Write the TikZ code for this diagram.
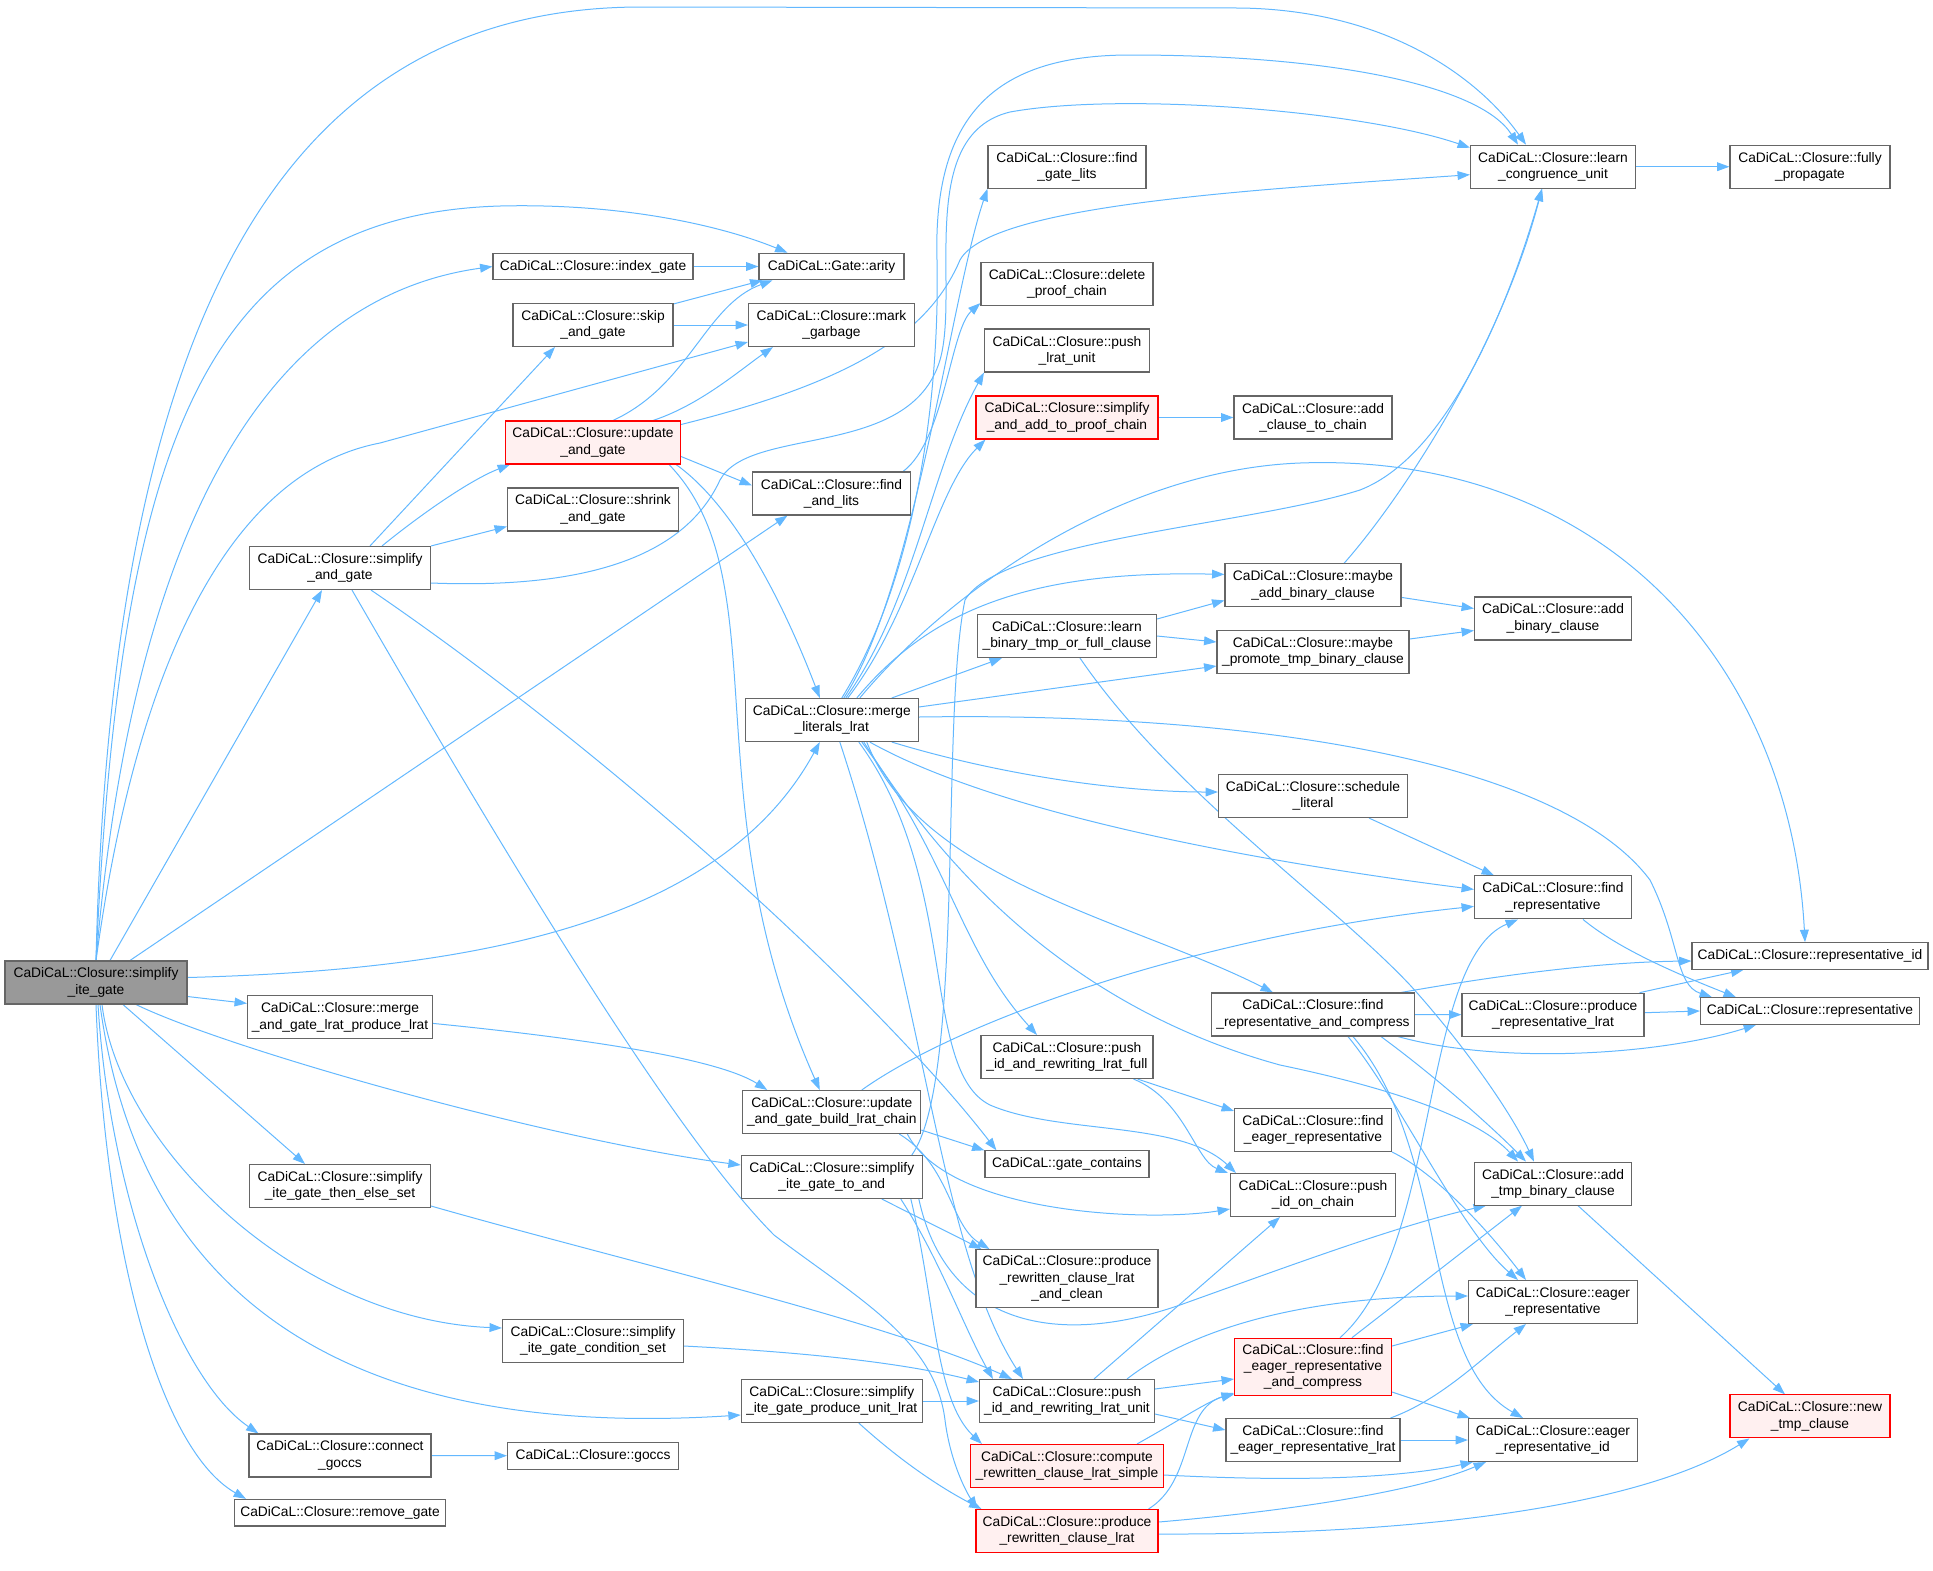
\documentclass[tikz,border=0pt]{standalone}
\usepackage{fontspec}
\setmainfont{Liberation Sans}
\usepackage{tikz}
\usetikzlibrary{arrows.meta, calc, backgrounds}
\definecolor{edgeblue}{HTML}{63B8FF}
\definecolor{boxline}{HTML}{666666}
\definecolor{rootfill}{HTML}{999999}
\definecolor{hotline}{HTML}{FF0000}
\definecolor{hotfill}{HTML}{FFF0F0}
\newcommand{\fnsize}{\fontsize{6.9pt}{8.1pt}\selectfont}

\begin{document}
\begin{tikzpicture}[
    x=0.5pt, y=-0.5pt,
    fn/.style={rectangle, draw=boxline, fill=white, line width=0.55pt,
               align=center, font=\fnsize, inner sep=1pt,
               minimum height=21.5pt},
    one/.style={minimum height=13.3pt},
    three/.style={minimum height=28.8pt},
    wd/.style={minimum width=#1*0.5pt},
    root/.style={fill=rootfill},
    hot/.style={draw=hotline, fill=hotfill},
    call/.style={-{Triangle[length=6.2pt, width=4.4pt]}, line width=0.5pt,
                 color=edgeblue}
]
\useasboundingbox (0,0) rectangle (1933,1570);

\node[fn, root, wd=182] (site) at (96,982.5) {CaDiCaL::Closure::simplify\\\_ite\_gate};
\node[fn, one, wd=200] (idx) at (593,266.5) {CaDiCaL::Closure::index\_gate};
\node[fn, one, wd=145] (arity) at (831.5,266.5) {CaDiCaL::Gate::arity};
\node[fn, wd=160] (skip) at (593,325) {CaDiCaL::Closure::skip\\\_and\_gate};
\node[fn, wd=166] (markg) at (831.5,325) {CaDiCaL::Closure::mark\\\_garbage};
\node[fn, hot, wd=175] (upd) at (593,442.5) {CaDiCaL::Closure::update\\\_and\_gate};
\node[fn, wd=171] (shrink) at (593,509.5) {CaDiCaL::Closure::shrink\\\_and\_gate};
\node[fn, wd=181] (sag) at (340,568) {CaDiCaL::Closure::simplify\\\_and\_gate};
\node[fn, wd=158] (fal) at (831.5,493.5) {CaDiCaL::Closure::find\\\_and\_lits};
\node[fn, wd=158] (fgl) at (1067,166.7) {CaDiCaL::Closure::find\\\_gate\_lits};
\node[fn, wd=172] (dpc) at (1067,284) {CaDiCaL::Closure::delete\\\_proof\_chain};
\node[fn, wd=165] (plu) at (1067,350.5) {CaDiCaL::Closure::push\\\_lrat\_unit};
\node[fn, hot, wd=182] (saapc) at (1067,417.5) {CaDiCaL::Closure::simplify\\\_and\_add\_to\_proof\_chain};
\node[fn, wd=158] (actc) at (1313,417.5) {CaDiCaL::Closure::add\\\_clause\_to\_chain};
\node[fn, wd=165] (lcu) at (1553,166.7) {CaDiCaL::Closure::learn\\\_congruence\_unit};
\node[fn, wd=160] (fp) at (1810,166.7) {CaDiCaL::Closure::fully\\\_propagate};
\node[fn, wd=173] (mll) at (831.8,720) {CaDiCaL::Closure::merge\\\_literals\_lrat};
\node[fn, wd=176] (mabc) at (1313,585.4) {CaDiCaL::Closure::maybe\\\_add\_binary\_clause};
\node[fn, wd=179] (lbt) at (1067,636) {CaDiCaL::Closure::learn\\\_binary\_tmp\_or\_full\_clause};
\node[fn, wd=192] (mptbc) at (1313,652) {CaDiCaL::Closure::maybe\\\_promote\_tmp\_binary\_clause};
\node[fn, wd=157] (abc) at (1553,618.5) {CaDiCaL::Closure::add\\\_binary\_clause};
\node[fn, wd=189] (sl) at (1313,796) {CaDiCaL::Closure::schedule\\\_literal};
\node[fn, wd=157] (fr) at (1553,897.4) {CaDiCaL::Closure::find\\\_representative};
\node[fn, one, wd=236] (repid) at (1810,956) {CaDiCaL::Closure::representative\_id};
\node[fn, one, wd=219] (rep) at (1810,1011) {CaDiCaL::Closure::representative};
\node[fn, wd=203] (frac) at (1313,1014.5) {CaDiCaL::Closure::find\\\_representative\_and\_compress};
\node[fn, wd=182] (prl) at (1553,1014.7) {CaDiCaL::Closure::produce\\\_representative\_lrat};
\node[fn, wd=172] (pirlf) at (1067,1057) {CaDiCaL::Closure::push\\\_id\_and\_rewriting\_lrat\_full};
\node[fn, wd=157] (fer) at (1313,1130) {CaDiCaL::Closure::find\\\_eager\_representative};
\node[fn, wd=157] (atbc) at (1553,1183.6) {CaDiCaL::Closure::add\\\_tmp\_binary\_clause};
\node[fn, wd=165] (pioc) at (1313,1195) {CaDiCaL::Closure::push\\\_id\_on\_chain};
\node[fn, wd=185] (magl) at (340,1017.4) {CaDiCaL::Closure::merge\\\_and\_gate\_lrat\_produce\_lrat};
\node[fn, wd=178] (uagb) at (831.8,1112) {CaDiCaL::Closure::update\\\_and\_gate\_build\_lrat\_chain};
\node[fn, one, wd=164] (gc) at (1067,1164.2) {CaDiCaL::gate\_contains};
\node[fn, wd=181] (sigtes) at (340,1186) {CaDiCaL::Closure::simplify\\\_ite\_gate\_then\_else\_set};
\node[fn, wd=181] (sigta) at (831.8,1177) {CaDiCaL::Closure::simplify\\\_ite\_gate\_to\_and};
\node[fn, three, wd=182] (prclc) at (1067,1278.4) {CaDiCaL::Closure::produce\\\_rewritten\_clause\_lrat\\\_and\_clean};
\node[fn, wd=181] (sigcs) at (593,1341) {CaDiCaL::Closure::simplify\\\_ite\_gate\_condition\_set};
\node[fn, wd=169] (er) at (1553,1302) {CaDiCaL::Closure::eager\\\_representative};
\node[fn, three, hot, wd=157] (ferac) at (1313,1367) {CaDiCaL::Closure::find\\\_eager\_representative\\\_and\_compress};
\node[fn, wd=175] (pirlu) at (1067,1401) {CaDiCaL::Closure::push\\\_id\_and\_rewriting\_lrat\_unit};
\node[fn, wd=181] (sigpul) at (831.8,1401) {CaDiCaL::Closure::simplify\\\_ite\_gate\_produce\_unit\_lrat};
\node[fn, hot, wd=160] (ntc) at (1810,1416.4) {CaDiCaL::Closure::new\\\_tmp\_clause};
\node[fn, wd=182] (cg) at (340,1455.5) {CaDiCaL::Closure::connect\\\_goccs};
\node[fn, one, wd=171] (goccs) at (593,1455.8) {CaDiCaL::Closure::goccs};
\node[fn, wd=174] (ferl) at (1313,1440) {CaDiCaL::Closure::find\\\_eager\_representative\_lrat};
\node[fn, wd=169] (erid) at (1553,1440) {CaDiCaL::Closure::eager\\\_representative\_id};
\node[fn, hot, wd=193] (crcls) at (1067,1466) {CaDiCaL::Closure::compute\\\_rewritten\_clause\_lrat\_simple};
\node[fn, one, wd=211] (rg) at (340,1512.7) {CaDiCaL::Closure::remove\_gate};
\node[fn, hot, wd=182] (prcl) at (1067,1531) {CaDiCaL::Closure::produce\\\_rewritten\_clause\_lrat};

\begin{scope}[on background layer]
% simplify_ite_gate
\draw[call] (site.north) .. controls (110,380) and (250,8) .. (640,7) -- (1240,8) .. controls (1390,10) and (1480,80) .. ($(lcu.north)+(-27,0)$);
\draw[call] (site.north) .. controls (120,450) and (200,215) .. (500,206) .. controls (620,203) and (720,225) .. ($(arity.north)+(-44,0)$);
\draw[call] (site.north) .. controls (130,560) and (250,300) .. (idx.west);
\draw[call] (site.north) .. controls (140,640) and (240,470) .. (380,443) -- ($(markg.west)+(0,17)$);
\draw[call] ($(site.north)+(14,0)$) -- ($(sag.south)+(-18,0)$);
\draw[call] ($(site.north)+(34,0)$) -- ($(fal.south)+(-44,0)$);
\draw[call] ($(site.east)+(0,-5)$) .. controls (470,970) and (720,925) .. ($(mll.south)+(-12,0)$);
\draw[call] ($(site.east)+(0,14)$) -- ($(magl.west)+(0,-14)$);
\draw[call] ($(site.south)+(40,0)$) .. controls (230,1050) and (550,1140) .. ($(sigta.west)+(0,-12)$);
\draw[call] ($(site.south)+(27,0)$) -- ($(sigtes.north)+(-35,0)$);
\draw[call] ($(site.south)+(6,0)$) .. controls (120,1150) and (300,1320) .. ($(sigcs.west)+(0,-13)$);
\draw[call] ($(site.south)+(4,0)$) .. controls (140,1300) and (350,1440) .. ($(sigpul.west)+(0,14)$);
\draw[call] ($(site.south)+(2,0)$) .. controls (110,1200) and (180,1380) .. ($(cg.north west)+(10,0)$);
\draw[call] (site.south) .. controls (105,1250) and (160,1450) .. ($(rg.north west)+(12,0)$);
% gate helpers
\draw[call] (idx) -- (arity);
\draw[call] ($(skip.north east)+(0,1)$) -- ($(arity.south west)+(4,0)$);
\draw[call] (skip) -- (markg);
\draw[call] ($(upd.north)+(20,0)$) .. controls (690,385) and (705,305) .. ($(arity.south west)+(14,0)$);
\draw[call] ($(upd.north)+(60,0)$) .. controls (700,405) and (740,370) .. ($(markg.south west)+(25,0)$);
\draw[call] ($(upd.east)+(0,-18)$) .. controls (860,380) and (930,330) .. (960,260) .. controls (990,205) and (1250,190) .. ($(lcu.west)+(0,8)$);
\draw[call] ($(upd.east)+(0,14)$) -- ($(fal.west)+(0,-8)$);
\draw[call] ($(upd.south east)+(-5,0)$) .. controls (740,510) and (790,620) .. ($(mll.north)+(-12,0)$);
\draw[call] ($(upd.south east)+(-12,0)$) .. controls (780,580) and (690,800) .. ($(uagb.north)+(-12,0)$);
\draw[call] ($(fal.north east)+(-8,0)$) .. controls (945,440) and (950,330) .. ($(dpc.south west)+(0,-3)$);
% simplify_and_gate
\draw[call] ($(sag.north)+(30,0)$) -- ($(skip.south)+(-38,0)$);
\draw[call] ($(sag.north)+(42,0)$) .. controls (420,515) and (470,480) .. ($(upd.south west)+(5,0)$);
\draw[call] (sag.north east) -- ($(shrink.west)+(0,17)$);
\draw[call] ($(sag.east)+(0,15)$) .. controls (610,590) and (690,545) .. (720,480) .. controls (750,425) and (910,460) .. (940,360) .. controls (960,290) and (915,135) .. (1010,112) .. controls (1120,92) and (1360,110) .. ($(lcu.west)+(0,-19)$);
\draw[call] ($(sag.south)+(31,0)$) .. controls (620,760) and (880,1000) .. ($(gc.north west)+(12,0)$);
\draw[call] ($(sag.south)+(12,0)$) .. controls (560,950) and (690,1150) .. (774,1235) .. controls (860,1300) and (935,1340) .. (945,1420) .. controls (950,1460) and (965,1490) .. ($(prcl.north west)+(2,0)$);
% merge_literals_lrat
\draw[call] ($(mll.north)+(12,0)$) .. controls (915,590) and (950,300) .. (fgl.south west);
\draw[call] ($(mll.north)+(14,0)$) .. controls (915,600) and (930,470) .. (plu.south west);
\draw[call] ($(mll.north)+(16,0)$) .. controls (915,610) and (935,490) .. ($(saapc.south west)+(10,0)$);
\draw[call] ($(mll.north)+(10,0)$) .. controls (915,580) and (940,400) .. (937,260) .. controls (933,120) and (990,55) .. (1130,55) .. controls (1330,55) and (1480,85) .. ($(lcu.north)+(-35,0)$);
\draw[call] ($(mll.north)+(25,0)$) .. controls (930,610) and (1030,570) .. ($(mabc.west)+(0,-11)$);
\draw[call] ($(mll.north)+(60,0)$) -- ($(lbt.south west)+(25,0)$);
\draw[call] ($(mll.east)+(0,-13)$) -- ($(mptbc.west)+(0,14)$);
\draw[call] ($(mll.north)+(28,0)$) .. controls (950,590) and (1120,470) .. (1300,463) .. controls (1600,452) and (1790,660) .. ($(repid.north)+(-5,0)$);
\draw[call] ($(mll.east)+(0,-3)$) .. controls (1250,712) and (1560,760) .. (1650,880) .. controls (1680,940) and (1675,985) .. ($(rep.north west)+(12,0)$);
\draw[call] ($(mll.south)+(60,0)$) .. controls (1000,775) and (1120,792) .. ($(sl.west)+(0,-4)$);
\draw[call] ($(mll.south)+(38,0)$) .. controls (1000,815) and (1260,862) .. ($(fr.west)+(0,-8)$);
\draw[call] ($(mll.south)+(35,0)$) .. controls (920,880) and (1130,920) .. ($(frac.north)+(-40,0)$);
\draw[call] ($(mll.south)+(32,0)$) .. controls (950,880) and (1080,1010) .. (1280,1065) .. controls (1400,1090) and (1480,1120) .. ($(atbc.north)+(-35,0)$);
\draw[call] ($(mll.south)+(30,0)$) .. controls (950,860) and (960,950) .. ($(pirlf.north)+(-30,0)$);
\draw[call] ($(mll.south)+(27,0)$) .. controls (960,880) and (920,1070) .. (990,1105) .. controls (1060,1135) and (1180,1120) .. ($(pioc.north west)+(6,0)$);
\draw[call] ($(mll.south)+(8,0)$) .. controls (925,1000) and (940,1250) .. ($(pirlu.north)+(-44,0)$);
% right part
\draw[call] (lcu) -- (fp);
\draw[call] (saapc) -- (actc);
\draw[call] ($(mabc.north)+(31,0)$) .. controls (1400,500) and (1500,350) .. ($(lcu.south)+(-11,0)$);
\draw[call] ($(mabc.east)+(0,12)$) -- ($(abc.west)+(0,-10)$);
\draw[call] ($(mptbc.east)+(0,-13)$) -- ($(abc.west)+(0,12)$);
\draw[call] ($(lbt.east)+(0,-17)$) -- ($(mabc.west)+(0,15)$);
\draw[call] (lbt.east) -- ($(mptbc.west)+(0,-10)$);
\draw[call] ($(lbt.south)+(13,0)$) .. controls (1170,790) and (1330,900) .. (1410,985) .. controls (1460,1040) and (1510,1110) .. ($(atbc.north)+(-19,0)$);
\draw[call] ($(sl.south)+(56,0)$) -- ($(fr.north west)+(20,0)$);
\draw[call] ($(fr.south)+(30,0)$) .. controls (1620,950) and (1680,975) .. ($(rep.north west)+(36,0)$);
\draw[call] ($(frac.north east)+(-14,0)$) .. controls (1500,975) and (1600,962) .. ($(repid.west)+(0,5)$);
\draw[call] (frac) -- (prl);
\draw[call] ($(frac.south east)+(-17,0)$) .. controls (1500,1065) and (1660,1055) .. ($(rep.south)+(-54,0)$);
\draw[call] ($(frac.south)+(68,0)$) .. controls (1440,1080) and (1495,1130) .. ($(atbc.north)+(-27,0)$);
\draw[call] ($(frac.south)+(35,0)$) .. controls (1400,1100) and (1460,1230) .. ($(er.north)+(-35,0)$);
\draw[call] ($(frac.south)+(40,0)$) .. controls (1450,1150) and (1420,1360) .. ($(erid.north)+(-30,0)$);
\draw[call] ($(prl.north east)+(-5,0)$) -- ($(repid.south west)+(52,0)$);
\draw[call] ($(prl.east)+(0,-2)$) -- (rep.west);
\draw[call] ($(ferac.north)+(27,0)$) .. controls (1440,1250) and (1420,960) .. ($(fr.south)+(-35,0)$);
\draw[call] ($(ferac.north)+(39,0)$) -- ($(atbc.south)+(-31,0)$);
\draw[call] ($(ferac.east)+(0,-21)$) -- ($(er.south west)+(5,0)$);
\draw[call] ($(ferac.east)+(0,25)$) -- ($(erid.north west)+(2,0)$);
\draw[call] ($(ferl.north east)+(-10,0)$) .. controls (1440,1400) and (1480,1360) .. ($(er.south)+(-27,0)$);
\draw[call] (ferl) -- (erid);
\draw[call] (fer.south east) .. controls (1430,1170) and (1480,1220) .. ($(er.north)+(-27,0)$);
\draw[call] ($(pirlf.south east)+(-16,0)$) -- ($(fer.north west)+(0,3)$);
\draw[call] ($(pirlf.south east)+(-20,0)$) .. controls (1185,1100) and (1195,1160) .. ($(pioc.north west)+(-2,0)$);
\draw[call] ($(atbc.south)+(25,0)$) -- ($(ntc.north)+(-25,0)$);
% lower part
\draw[call] ($(magl.east)+(0,6)$) .. controls (600,1040) and (720,1060) .. ($(uagb.north west)+(25,0)$);
\draw[call] ($(uagb.south east)+(0,-4)$) -- (gc.north west);
\draw[call] ($(uagb.north)+(30,0)$) .. controls (960,1020) and (1200,935) .. ($(fr.west)+(0,9)$);
\draw[call] ($(uagb.south east)+(-14,0)$) .. controls (950,1215) and (1150,1222) .. ($(pioc.west)+(0,14)$);
\draw[call] ($(uagb.south east)+(-22,0)$) .. controls (950,1165) and (950,1225) .. ($(prclc.north west)+(14,0)$);
\draw[call] ($(sigta.north east)+(-11,0)$) .. controls (965,1080) and (940,720) .. (965,600) .. controls (1000,540) and (1250,525) .. (1360,490) .. controls (1450,455) and (1510,300) .. ($(lcu.south)+(-11,0)$);
\draw[call] ($(sigta.south)+(50,0)$) -- ($(prclc.north west)+(6,0)$);
\draw[call] ($(sigta.south east)+(-22,0)$) .. controls (940,1260) and (965,1330) .. ($(pirlu.north west)+(14,0)$);
\draw[call] ($(sigta.south east)+(-12,0)$) .. controls (935,1300) and (935,1400) .. ($(crcls.north west)+(12,0)$);
\draw[call] ($(sigta.south east)+(-4,0)$) .. controls (945,1320) and (1050,1350) .. (1180,1305) .. controls (1300,1262) and (1400,1225) .. ($(atbc.south west)+(12,0)$);
\draw[call] (sigpul) -- (pirlu);
\draw[call] ($(sigpul.south)+(27,0)$) .. controls (905,1465) and (945,1490) .. ($(prcl.north west)+(6,0)$);
\draw[call] ($(sigtes.east)+(0,20)$) .. controls (620,1260) and (880,1320) .. ($(pirlu.north)+(-55,0)$);
\draw[call] ($(sigcs.east)+(0,5)$) .. controls (800,1352) and (900,1362) .. ($(pirlu.west)+(0,-19)$);
\draw[call] (cg) -- (goccs);
\draw[call] ($(pirlu.east)+(0,-12)$) -- ($(ferac.west)+(0,12)$);
\draw[call] ($(pirlu.east)+(0,13)$) -- ($(ferl.west)+(0,-10)$);
\draw[call] ($(pirlu.north)+(60,0)$) .. controls (1190,1330) and (1300,1296) .. ($(er.west)+(0,-6)$);
\draw[call] ($(pirlu.north)+(27,0)$) -- ($(pioc.south)+(-33,0)$);
\draw[call] ($(crcls.north)+(70,0)$) .. controls (1180,1420) and (1210,1400) .. ($(ferac.south west)+(0,-2)$);
\draw[call] ($(crcls.east)+(0,9)$) .. controls (1300,1482) and (1400,1478) .. ($(erid.south west)+(5,0)$);
\draw[call] ($(prcl.north east)+(-10,0)$) .. controls (1195,1480) and (1180,1410) .. ($(ferac.west)+(0,26)$);
\draw[call] ($(prcl.east)+(0,-9)$) .. controls (1300,1510) and (1420,1490) .. ($(erid.south)+(-67,0)$);
\draw[call] ($(prcl.east)+(0,3)$) .. controls (1450,1535) and (1650,1500) .. ($(ntc.south west)+(20,0)$);
\end{scope}

\end{tikzpicture}
\end{document}
